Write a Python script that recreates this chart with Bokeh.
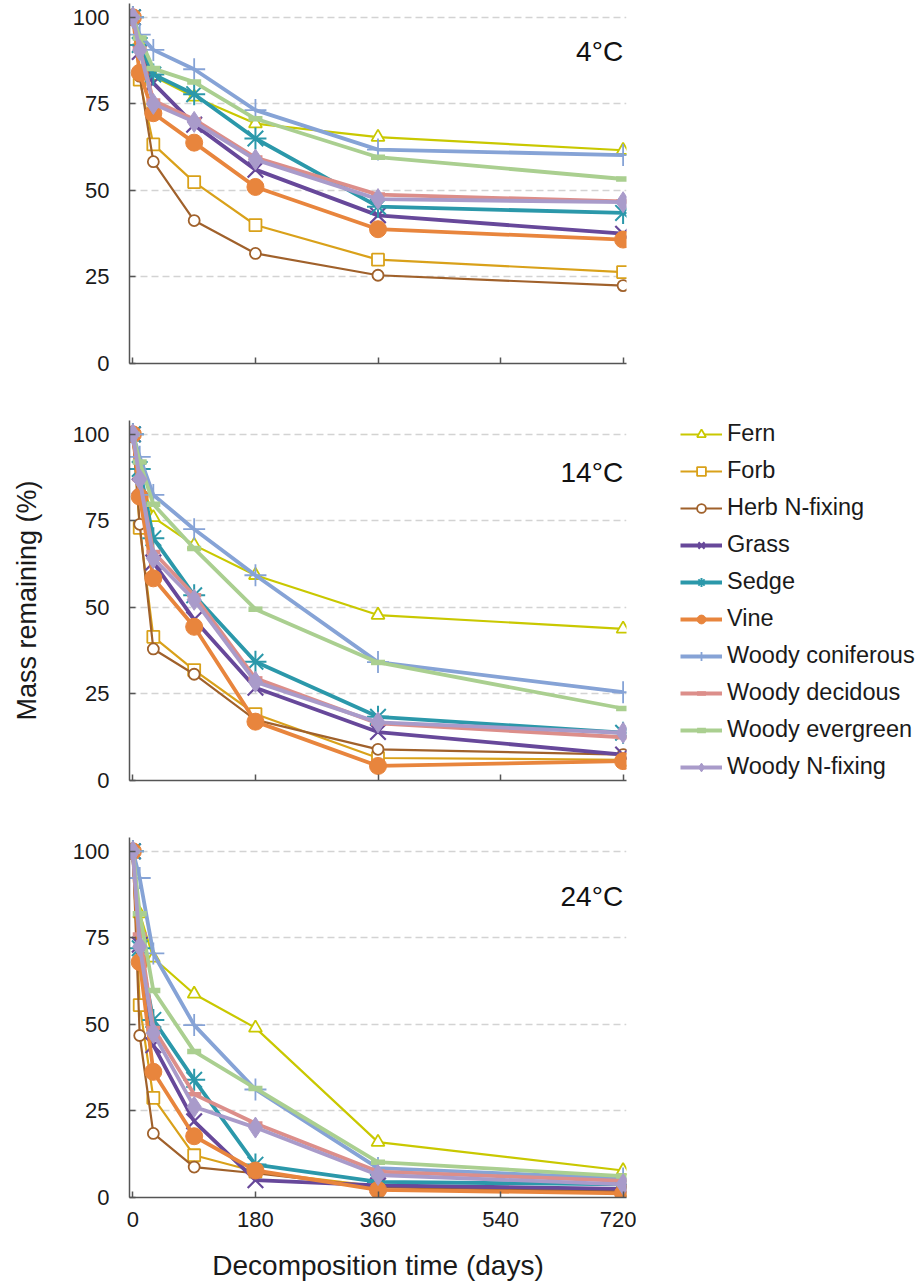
from bokeh.plotting import figure
from bokeh.models import Legend, LegendItem, Label, FixedTicker, Range1d
from bokeh.layouts import column
from bokeh.embed import file_html
from bokeh.resources import INLINE

FONT = "Liberation Sans"

days = [0, 10, 30, 90, 180, 360, 720]
groups = ["Fern", "Forb", "Herb N-fixing", "Grass", "Sedge", "Vine",
          "Woody coniferous", "Woody decidous", "Woody evergreen", "Woody N-fixing"]
temps = ["4°C", "14°C", "24°C"]
y_ticks = [0, 25, 50, 75, 100]
x_ticks = [0, 180, 360, 540, 720]

# 4 °C
fern_4 = [100, 93, 83, 77, 69.3, 65.4, 61.6]
forb_4 = [100, 82, 63.3, 52.4, 40, 30, 26.4]
herb_4 = [100, 83, 58.3, 41.3, 31.8, 25.5, 22.5]
grass_4 = [100, 90, 81, 69, 56, 42.8, 37.5]
sedge_4 = [100, 92, 83.5, 77.8, 65, 45.3, 43.5]
vine_4 = [100, 84, 72.3, 63.8, 51, 38.8, 35.8]
conif_4 = [100, 95, 90.6, 85, 73.2, 61.8, 60.2]
decid_4 = [100, 91, 76, 70.5, 59.5, 48.8, 46.8]
everg_4 = [100, 94, 85.2, 81.3, 70.7, 59.6, 53.3]
nfix_4 = [100, 90.5, 75, 69.8, 58.9, 47.5, 46.6]

# 14 °C
fern_14 = [100, 88, 76, 68, 59.3, 47.8, 43.8]
forb_14 = [100, 73, 41.5, 31.9, 19.2, 6.5, 6]
herb_14 = [100, 74, 38, 30.7, 17.5, 9, 7.5]
grass_14 = [100, 85, 63, 46.5, 26.8, 14, 7.5]
sedge_14 = [100, 90, 70, 53.5, 34.3, 18.4, 13.8]
vine_14 = [100, 82, 58.4, 44.4, 17, 4.2, 5.6]
conif_14 = [100, 93.5, 82.5, 72.6, 59.3, 34.2, 25.5]
decid_14 = [100, 87, 66, 53.5, 29.5, 16.5, 12.5]
everg_14 = [100, 92, 79.8, 67, 49.5, 34.1, 20.8]
nfix_14 = [100, 87, 64.2, 52.2, 28.5, 16.8, 13.8]

# 24 °C
fern_24 = [100, 82, 69.2, 58.8, 49, 16, 7.8]
forb_24 = [100, 55.6, 28.8, 12.2, 7.5, 3.2, 2]
herb_24 = [100, 46.8, 18.5, 8.8, 7, 3, 1.8]
grass_24 = [100, 73, 44, 22, 5, 3.5, 2.5]
sedge_24 = [100, 72, 51.3, 34, 9.5, 4.5, 3.8]
vine_24 = [100, 68, 36.3, 17.7, 7.8, 2.2, 1.2]
conif_24 = [100, 92.3, 70.5, 49.8, 31.2, 8.5, 5.5]
decid_24 = [100, 76, 49, 29.8, 21.4, 7.5, 4.8]
everg_24 = [100, 82, 59.8, 42.2, 31.5, 10.2, 6.2]
nfix_24 = [100, 72.5, 47.5, 26.2, 20.2, 6.5, 3.8]

data = [
    [fern_4, forb_4, herb_4, grass_4, sedge_4, vine_4, conif_4, decid_4, everg_4, nfix_4],
    [fern_14, forb_14, herb_14, grass_14, sedge_14, vine_14, conif_14, decid_14, everg_14, nfix_14],
    [fern_24, forb_24, herb_24, grass_24, sedge_24, vine_24, conif_24, decid_24, everg_24, nfix_24],
]

styles = [
    dict(color="#c9c800", lw=2.2, marker="triangle", size=13, fill="white", mlw=1.8),
    dict(color="#d9a11a", lw=2.2, marker="square", size=12, fill="white", mlw=1.8),
    dict(color="#a0612b", lw=2.2, marker="circle", size=11, fill="white", mlw=1.8),
    dict(color="#67489a", lw=3.8, marker="x", size=22, fill=None, mlw=2.2),
    dict(color="#2b98aa", lw=3.8, marker="asterisk", size=22, fill=None, mlw=2),
    dict(color="#e8853d", lw=3.8, marker="circle", size=17, fill="#e8853d", mlw=1),
    dict(color="#86a3d6", lw=3.8, marker="cross", size=22, fill=None, mlw=1.8),
    dict(color="#dc8e8a", lw=3.8, marker="dash", size=14, fill=None, mlw=4.5),
    dict(color="#aacf90", lw=3.8, marker="dash", size=14, fill=None, mlw=5.5),
    dict(color="#a99bca", lw=3.8, marker="diamond", size=21, fill="#a99bca", mlw=1),
]

label_y = [90, 89, 87]
figs = []
for i in range(3):
    last = i == 2
    p = figure(frame_width=497, frame_height=360,
               x_range=Range1d(-5, 725), y_range=Range1d(0, 104),
               output_backend="svg", toolbar_location=None,
               min_border_left=129, min_border_top=3,
               min_border_bottom=89 if last else 54, min_border_right=10)
    p.outline_line_color = None
    p.background_fill_color = "white"
    p.xgrid.visible = False
    p.ygrid.grid_line_color = "#d3d3d3"
    p.ygrid.grid_line_dash = "7 4"
    p.ygrid.grid_line_width = 1.5
    p.yaxis.ticker = FixedTicker(ticks=y_ticks)
    p.xaxis.ticker = FixedTicker(ticks=x_ticks)
    for ax in (p.xaxis, p.yaxis):
        ax.axis_line_color = "#555555"
        ax.axis_line_width = 1.5
        ax.major_tick_line_color = "#555555"
        ax.major_tick_line_width = 1.5
        ax.major_tick_in = 6
        ax.major_tick_out = 0
        ax.minor_tick_line_color = None
        ax.major_label_text_font = FONT
        ax.major_label_text_font_size = "22px"
        ax.major_label_text_color = "#1a1a1a"
    p.yaxis.major_label_standoff = 20
    if not last:
        p.xaxis.major_label_overrides = {t: "" for t in x_ticks}
    else:
        p.xaxis.major_label_standoff = 14
        p.xaxis.axis_label = "Decomposition time (days)"
        p.xaxis.axis_label_text_font = FONT
        p.xaxis.axis_label_text_font_style = "normal"
        p.xaxis.axis_label_text_font_size = "28px"
        p.xaxis.axis_label_text_color = "#1a1a1a"
        p.xaxis.axis_label_standoff = 20
    items = []
    for g, st, ys in zip(groups, styles, data[i]):
        lr = p.line(days, ys, line_color=st["color"], line_width=st["lw"])
        sr = p.scatter(days, ys, marker=st["marker"], size=st["size"],
                       line_color=st["color"], line_width=st["mlw"],
                       fill_color=st["fill"])
        items.append(LegendItem(label=g, renderers=[lr, sr]))
    p.add_layout(Label(x=720, y=label_y[i], text=temps[i], text_align="right",
                       text_baseline="middle", text_font=FONT,
                       text_font_size="28px", text_color="#111111"))
    if i == 1:
        p.yaxis.axis_label = "Mass remaining (%)"
        p.yaxis.axis_label_text_font = FONT
        p.yaxis.axis_label_text_font_style = "normal"
        p.yaxis.axis_label_text_font_size = "27px"
        p.yaxis.axis_label_text_color = "#1a1a1a"
        p.yaxis.axis_label_standoff = 28
        legend = Legend(items=items, location="top_left",
                        glyph_width=42, glyph_height=22, label_height=22,
                        spacing=10, label_standoff=5, padding=0, margin=0,
                        border_line_color=None, background_fill_alpha=0,
                        label_text_font=FONT, label_text_font_size="23.5px",
                        label_text_color="#1a1a1a")
        p.add_layout(legend, "right")
        legend.location = (54, 0)
    figs.append(p)

layout = column(*figs, spacing=0)
open("out.html", "w").write(file_html(layout, INLINE))
